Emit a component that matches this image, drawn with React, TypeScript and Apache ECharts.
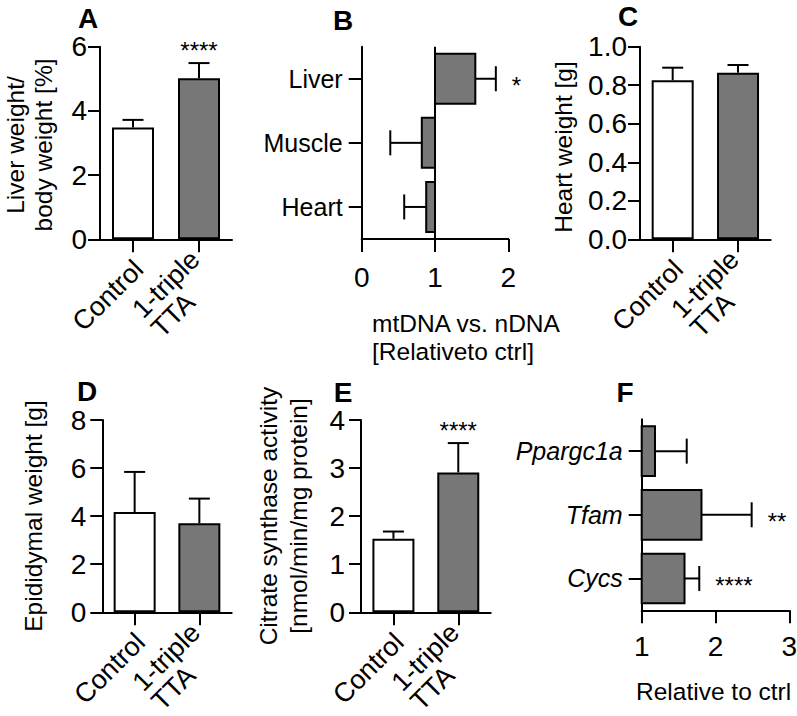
import React, { useEffect, useRef } from 'react';
import * as echarts from 'echarts';

const FONT = "'Liberation Sans', Arial, Helvetica, sans-serif";
const GRAY = '#777777';

// ---------- data ----------
const groups = ['Control', '1-triple\nTTA'];

// A: liver weight / body weight [%]
const liverBodyMean = [3.48, 5.02];
const liverBodyErr = [3.72, 5.49];
const liverBodySig = ['', '****'];

// B: mtDNA vs nDNA relative to ctrl
const tissues = ['Liver', 'Muscle', 'Heart'];
const mtDnaMean = [1.55, 0.82, 0.88];
const mtDnaErr = [1.83, 0.39, 0.58];
const mtDnaSig = ['*', '', ''];
const mtDnaBase = 1;

// C: heart weight [g]
const heartMean = [0.826, 0.865];
const heartErr = [0.891, 0.905];
const heartSig = ['', ''];

// D: epididymal weight [g]
const epiMean = [4.17, 3.7];
const epiErr = [5.84, 4.73];
const epiSig = ['', ''];

// E: citrate synthase activity
const csMean = [1.53, 2.91];
const csErr = [1.68, 3.52];
const csSig = ['', '****'];

// F: gene expression relative to ctrl
const genes = ['Ppargc1a', 'Tfam', 'Cycs'];
const geneMean = [1.18, 1.81, 1.58];
const geneErr = [1.61, 2.49, 1.78];
const geneSig = ['', '**', '****'];
const geneBase = 1;

// axis ranges [min, max, interval]
const rangeA = [0, 6, 2];
const rangeB = [0, 2, 1];
const rangeC = [0, 1, 0.2];
const rangeD = [0, 8, 2];
const rangeE = [0, 4, 1];
const rangeF = [1, 3, 1];

// ---------- helpers ----------
const fills = ['#ffffff', GRAY];
const BLACK = '#000000';
const FS = 25; // category / title text
const TFS = 28; // numeric tick labels
const RFS = 27; // rotated group labels

const axisLine = { show: true, onZero: false, lineStyle: { color: BLACK, width: 2 } };

function catX(gridIndex: number) {
  return {
    type: 'category',
    gridIndex,
    data: groups,
    axisLine,
    axisTick: { show: true, alignWithLabel: true, length: 13, lineStyle: { color: BLACK, width: 2 } },
    axisLabel: {
      interval: 0,
      rotate: 45,
      margin: 31,
      padding: [0, -8, 0, 0],
      color: BLACK,
      fontFamily: FONT,
      fontSize: RFS,
      formatter: (v: string) => v.split('\n').map((s) => `{l|${s}}`).join('\n'),
      rich: { l: { align: 'left', fontSize: RFS, lineHeight: 27, fontFamily: FONT, color: BLACK } },
    },
    splitLine: { show: false },
  };
}

function valY(gridIndex: number, r: number[], margin: number, digits = 0) {
  return {
    type: 'value',
    gridIndex,
    min: r[0],
    max: r[1],
    interval: r[2],
    axisLine,
    axisTick: { show: true, length: 12, lineStyle: { color: BLACK, width: 2 } },
    axisLabel: {
      margin,
      color: BLACK,
      fontFamily: FONT,
      fontSize: TFS,
      lineHeight: 22,
      formatter: (v: number) => v.toFixed(digits),
    },
    splitLine: { show: false },
  };
}

function catY(gridIndex: number, data: string[], italic: boolean) {
  return {
    type: 'category',
    gridIndex,
    inverse: true,
    data,
    axisLine,
    axisTick: { show: true, alignWithLabel: true, length: 13, lineStyle: { color: BLACK, width: 2 } },
    axisLabel: {
      interval: 0,
      margin: 19,
      color: BLACK,
      fontFamily: FONT,
      fontSize: FS,
      fontStyle: italic ? 'italic' : 'normal',
    },
    splitLine: { show: false },
  };
}

function valX(gridIndex: number, r: number[], margin: number) {
  return {
    type: 'value',
    gridIndex,
    min: r[0],
    max: r[1],
    interval: r[2],
    axisLine,
    axisTick: { show: true, length: 13, lineStyle: { color: BLACK, width: 2 } },
    axisLabel: { margin, color: BLACK, fontFamily: FONT, fontSize: TFS },
    splitLine: { show: false },
  };
}

function barSeries(idx: number, mean: number[]) {
  return {
    type: 'bar',
    xAxisIndex: idx,
    yAxisIndex: idx,
    barWidth: 42,
    data: mean.map((v, i) => ({ value: v, itemStyle: { color: fills[i] } })),
    itemStyle: { borderColor: BLACK, borderWidth: 2 },
    silent: true,
  };
}

function vErrSeries(idx: number, mean: number[], err: number[], sig: string[]) {
  return {
    type: 'custom',
    xAxisIndex: idx,
    yAxisIndex: idx,
    clip: false,
    silent: true,
    z: 5,
    encode: { x: 0, y: 1 },
    data: mean.map((v, i) => [i, v, err[i]]),
    renderItem: (params: any, api: any) => {
      const c = api.value(0);
      const v = api.value(1);
      const e = api.value(2);
      const p0 = api.coord([c, v]);
      const p1 = api.coord([c, e]);
      const w = 10.5;
      const children: any[] = [
        { type: 'line', shape: { x1: p0[0], y1: p0[1], x2: p1[0], y2: p1[1] }, style: { stroke: BLACK, lineWidth: 2 } },
        { type: 'line', shape: { x1: p1[0] - w, y1: p1[1], x2: p1[0] + w, y2: p1[1] }, style: { stroke: BLACK, lineWidth: 2 } },
      ];
      const s = sig[params.dataIndex];
      if (s) {
        children.push({
          type: 'text',
          x: p1[0],
          y: p1[1] - 13,
          style: { text: s, fill: BLACK, fontSize: 24, lineHeight: 16, fontFamily: FONT, align: 'center', verticalAlign: 'middle' },
        });
      }
      return { type: 'group', children };
    },
  };
}

function hBarSeries(idx: number, mean: number[], base: number) {
  return {
    type: 'custom',
    xAxisIndex: idx,
    yAxisIndex: idx,
    clip: false,
    silent: true,
    z: 3,
    encode: { x: 0, y: 1 },
    data: mean.map((v, i) => [v, i]),
    renderItem: (params: any, api: any) => {
      const v = api.value(0);
      const c = api.value(1);
      const p0 = api.coord([base, c]);
      const p1 = api.coord([v, c]);
      const h = api.size([0, 1])[1] * 0.78;
      return {
        type: 'rect',
        shape: { x: Math.min(p0[0], p1[0]), y: p0[1] - h / 2, width: Math.abs(p1[0] - p0[0]), height: h },
        style: { fill: GRAY, stroke: BLACK, lineWidth: 2 },
      };
    },
  };
}

function hErrSeries(idx: number, mean: number[], err: number[], sig: string[]) {
  return {
    type: 'custom',
    xAxisIndex: idx,
    yAxisIndex: idx,
    clip: false,
    silent: true,
    z: 5,
    encode: { x: 0, y: 1 },
    data: mean.map((v, i) => [v, i, err[i]]),
    renderItem: (params: any, api: any) => {
      const v = api.value(0);
      const c = api.value(1);
      const e = api.value(2);
      const p0 = api.coord([v, c]);
      const p1 = api.coord([e, c]);
      const hh = 12.5;
      const children: any[] = [
        { type: 'line', shape: { x1: p0[0], y1: p0[1], x2: p1[0], y2: p1[1] }, style: { stroke: BLACK, lineWidth: 2 } },
        { type: 'line', shape: { x1: p1[0], y1: p1[1] - hh, x2: p1[0], y2: p1[1] + hh }, style: { stroke: BLACK, lineWidth: 2 } },
      ];
      const s = sig[params.dataIndex];
      if (s) {
        children.push({
          type: 'text',
          x: p1[0] + 16,
          y: p1[1] + 7,
          style: { text: s, fill: BLACK, fontSize: 24, lineHeight: 16, fontFamily: FONT, align: 'left', verticalAlign: 'middle' },
        });
      }
      return { type: 'group', children };
    },
  };
}

function baseLineSeries(idx: number, base: number) {
  return {
    type: 'custom',
    xAxisIndex: idx,
    yAxisIndex: idx,
    clip: false,
    silent: true,
    z: 4,
    encode: { x: 0, y: 1 },
    data: [[base, 0]],
    renderItem: (params: any, api: any) => {
      const x = api.coord([api.value(0), 0])[0];
      const cs = params.coordSys;
      return {
        type: 'line',
        shape: { x1: x, y1: cs.y, x2: x, y2: cs.y + cs.height },
        style: { stroke: BLACK, lineWidth: 2 },
      };
    },
  };
}

function txt(text: string, x: number, y: number, opts: any = {}) {
  return {
    type: 'text',
    x,
    y,
    rotation: opts.rotation || 0,
    silent: true,
    style: {
      text,
      fill: BLACK,
      fontSize: opts.fontSize || 24.5,
      lineHeight: opts.lineHeight || 26,
      fontWeight: opts.bold ? 'bold' : 'normal',
      fontFamily: FONT,
      align: opts.align || 'center',
      verticalAlign: 'middle',
    },
  };
}

const grid = (left: number, top: number, width: number, height: number) => ({
  left,
  top,
  width,
  height,
  containLabel: false,
  outerBoundsMode: 'none',
});

const letter = { bold: true, fontSize: 28, lineHeight: 22 };

const option: any = {
  animation: false,
  backgroundColor: '#ffffff',
  grid: [
    grid(100, 46.7, 132, 192.6), // A
    grid(361.7, 46.7, 146.6, 192.3), // B
    grid(640, 46.7, 130.7, 192.6), // C
    grid(102.3, 420, 129.4, 192.3), // D
    grid(361, 420, 129.7, 192.3), // E
    grid(641.7, 419.3, 147.6, 191), // F
  ],
  xAxis: [catX(0), valX(1, rangeB, 24), catX(2), catX(3), catX(4), valX(5, rangeF, 22)],
  yAxis: [
    valY(0, rangeA, 13),
    catY(1, tissues, false),
    valY(2, rangeC, 13, 1),
    valY(3, rangeD, 16),
    valY(4, rangeE, 16),
    catY(5, genes, true),
  ],
  series: [
    barSeries(0, liverBodyMean),
    vErrSeries(0, liverBodyMean, liverBodyErr, liverBodySig),
    hBarSeries(1, mtDnaMean, mtDnaBase),
    baseLineSeries(1, mtDnaBase),
    hErrSeries(1, mtDnaMean, mtDnaErr, mtDnaSig),
    barSeries(2, heartMean),
    vErrSeries(2, heartMean, heartErr, heartSig),
    barSeries(3, epiMean),
    vErrSeries(3, epiMean, epiErr, epiSig),
    barSeries(4, csMean),
    vErrSeries(4, csMean, csErr, csSig),
    hBarSeries(5, geneMean, geneBase),
    hErrSeries(5, geneMean, geneErr, geneSig),
  ],
  graphic: [
    // panel letters
    txt('A', 88, 18, letter),
    txt('B', 343, 20, letter),
    txt('C', 628, 16, letter),
    txt('D', 87, 391, letter),
    txt('E', 343, 392, letter),
    txt('F', 625, 392, letter),
    // axis titles
    txt('Liver weight/', 15, 145, { rotation: Math.PI / 2 }),
    txt('body weight [%]', 43, 145, { rotation: Math.PI / 2 }),
    txt('mtDNA vs. nDNA', 372, 323.7, { align: 'left' }),
    txt('[Relativeto ctrl]', 372, 351.7, { align: 'left' }),
    txt('Heart weight [g]', 563, 147, { rotation: Math.PI / 2 }),
    txt('Epididymal weight [g]', 33, 516, { rotation: Math.PI / 2 }),
    txt('Citrate synthase activity', 268, 516, { rotation: Math.PI / 2 }),
    txt('[nmol/min/mg protein]', 298, 516, { rotation: Math.PI / 2 }),
    txt('Relative to ctrl', 636, 691.5, { align: 'left' }),
  ],
};

export default function App() {
  const ref = useRef<HTMLDivElement>(null);
  useEffect(() => {
    const chart = echarts.init(ref.current as HTMLDivElement, undefined, { renderer: 'svg' });
    chart.setOption(option);
    return () => chart.dispose();
  }, []);
  return (
    <div
      ref={ref}
      style={{ position: 'absolute', left: 0, top: 0, width: 797, height: 716, background: '#ffffff' }}
    />
  );
}
